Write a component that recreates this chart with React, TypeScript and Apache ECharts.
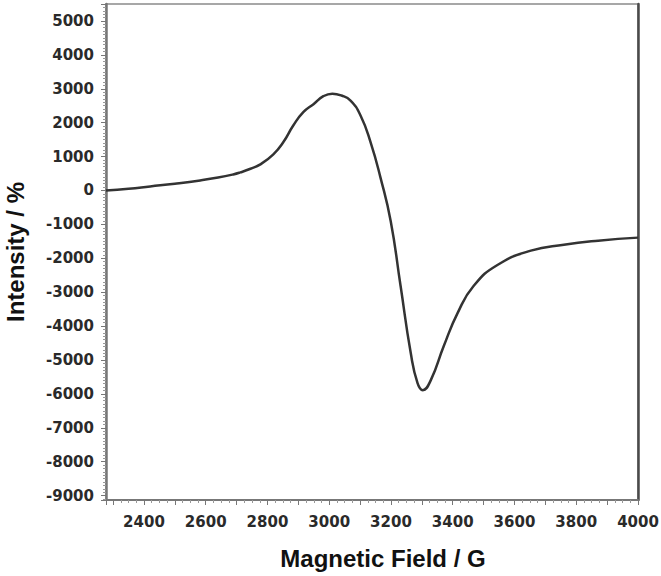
import React, { useEffect, useRef } from "react";
import * as echarts from "echarts";

const fieldValues = [2277, 2350, 2420, 2500, 2582, 2640, 2689, 2712, 2745, 2777, 2819, 2851, 2884, 2916, 2949, 2981, 3010, 3040, 3069, 3101, 3134, 3166, 3199, 3231, 3264, 3286, 3303, 3329, 3371, 3416, 3468, 3546, 3653, 3760, 3871, 4000];
const intensityValues = [0, 50, 120, 200, 296, 380, 473, 533, 640, 770, 1066, 1421, 1924, 2309, 2546, 2780, 2855, 2800, 2650, 2220, 1421, 380, -900, -2812, -4795, -5683, -5890, -5594, -4588, -3611, -2812, -2190, -1776, -1598, -1480, -1391];
const xTitle = "Magnetic Field / G";
const yTitle = "Intensity / %";

export default function App() {
  const ref = useRef<HTMLDivElement>(null);
  useEffect(() => {
    if (!ref.current) return;
    const chart = echarts.init(ref.current, null, { renderer: "svg" });
    const labelStyle = { fontFamily: "DejaVu Sans", fontSize: 15, fontWeight: "bold", color: "#2a2a2a" };
    chart.setOption({
      animation: false,
      backgroundColor: "#ffffff",
      grid: {
        left: 106,
        right: 23,
        top: 4,
        bottom: 76,
        containLabel: false,
        outerBoundsMode: "none",
        show: true,
        borderColor: "#8a8a8a",
        borderWidth: 1.5,
      },
      xAxis: [
        {
          type: "value",
          min: 2277,
          max: 4000,
          splitNumber: 17,
          name: xTitle,
          nameLocation: "middle",
          nameGap: 46,
          nameTextStyle: { fontFamily: "Liberation Sans", fontSize: 24, fontWeight: "bold", color: "#111", padding: [0, 0, 0, 22] },
          axisLine: { show: true, onZero: false, lineStyle: { color: "#777", width: 2 } },
          axisTick: { show: true, length: 5, lineStyle: { color: "#777", width: 1 } },
          minorTick: { show: true, splitNumber: 4, length: 3, lineStyle: { color: "#999" } },
          splitLine: { show: false },
          axisLabel: {
            ...labelStyle,
            margin: 14,
            formatter: (v: number) => (Math.abs(v - Math.round(v / 200) * 200) < 0.5 ? String(Math.round(v)) : ""),
          },
        },
      ],
      yAxis: [
        {
          type: "value",
          min: -9130,
          max: 5500,
          splitNumber: 15,
          name: yTitle,
          nameLocation: "middle",
          nameGap: 79,
          nameTextStyle: { fontFamily: "Liberation Sans", fontSize: 24, fontWeight: "bold", color: "#111" },
          axisLine: { show: true, onZero: false, lineStyle: { color: "#777", width: 2.5 } },
          axisTick: { show: true, length: 5, lineStyle: { color: "#777", width: 1 } },
          minorTick: { show: true, splitNumber: 10, length: 3, lineStyle: { color: "#999" } },
          splitLine: { show: false },
          axisLabel: {
            ...labelStyle,
            margin: 12,
            formatter: (v: number) => (Math.abs(v - Math.round(v / 1000) * 1000) < 0.5 ? String(Math.round(v)) : ""),
          },
        },
        {
          type: "value",
          position: "right",
          min: -9130,
          max: 5500,
          axisLine: { show: true, onZero: false, lineStyle: { color: "#4a4a4a", width: 2.5 } },
          axisTick: { show: false },
          axisLabel: { show: false },
          splitLine: { show: false },
        },
      ],
      series: [
        {
          type: "line",
          data: fieldValues.map((x, i) => [x, intensityValues[i]]),
          showSymbol: false,
          smooth: 0.5,
          lineStyle: { color: "#333", width: 2.5 },
          z: 3,
        },
      ],
    });
    return () => chart.dispose();
  }, []);
  return <div ref={ref} style={{ position: "fixed", left: 0, top: 0, width: 661, height: 576 }} />;
}
